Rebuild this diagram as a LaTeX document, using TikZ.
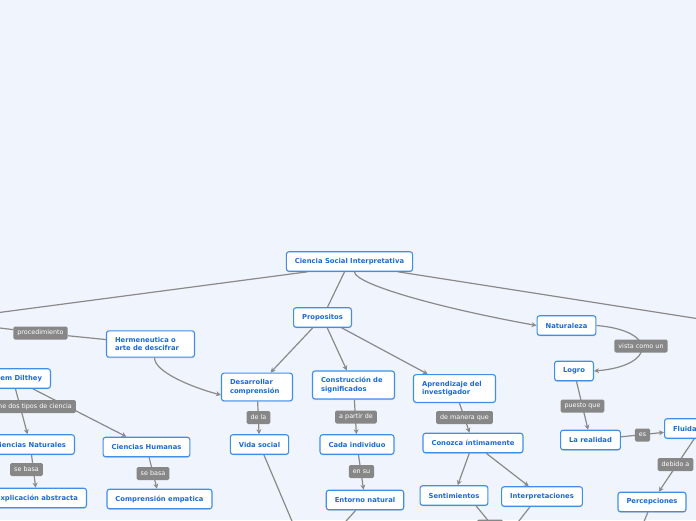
\documentclass[tikz,border=0pt]{standalone}
\usepackage{fontspec}
\setmainfont{DejaVu Sans}
\usetikzlibrary{arrows.meta,shadows}
\definecolor{pagebg}{HTML}{F0F4FC}
\definecolor{boxline}{HTML}{3F8FE8}
\definecolor{boxtext}{HTML}{1C6BD0}
\definecolor{linegray}{HTML}{8A8A8A}
\definecolor{tagfill}{HTML}{878787}
\pgfdeclarelayer{back}
\pgfdeclarelayer{edges}
\pgfsetlayers{back,edges,main}

\begin{document}
\begin{tikzpicture}[x=1pt, y=1pt,
    topic/.style={draw=boxline, fill=white, line width=1.1pt, rounded corners=2.5pt,
      text=boxtext, font=\fontsize{6.8}{8.7}\selectfont\bfseries, align=left,
      inner xsep=8.5pt, inner ysep=6.2pt, minimum height=19.5pt,
      drop shadow={shadow xshift=0pt, shadow yshift=-1.2pt, opacity=0.2}},
    tag/.style={fill=tagfill, text=white, rounded corners=1.5pt,
      font=\fontsize{6.4}{7}\selectfont, inner xsep=4pt, inner ysep=0pt, minimum height=13pt},
    link/.style={draw=linegray, line width=1.2pt},
    arr/.style={link, -{Stealth[length=5pt,width=5pt]}}
  ]
  \useasboundingbox (0,0) rectangle (696,-520);
  \begin{pgfonlayer}{back}
    \fill[pagebg] (0,0) rectangle (696,-520);
  \end{pgfonlayer}

  % topics
  \node[topic] (root) at (349.5,-261.5) {Ciencia Social Interpretativa};
  \node[topic] (prop) at (322.5,-317.5) {Propositos};
  \node[topic] (nat) at (566.5,-325.5) {Naturaleza};
  \node[topic, text width=71pt] (herm) at (150.5,-344) {Hermeneutica o\\arte de descifrar};
  \node[topic, text width=54pt] (des) at (257,-387) {Desarrollar\\comprensión};
  \node[topic, text width=65pt] (cons) at (353.5,-385) {Construcción de\\significados};
  \node[topic, text width=65pt] (apr) at (454.5,-388.5) {Aprendizaje del\\investigador};
  \node[topic] (logro) at (574,-371) {Logro};
  \node[topic, anchor=east] (dil) at (51,-378.5) {Wilhem Dilthey};
  \node[topic, anchor=east] (cnat) at (75,-444.5) {Ciencias Naturales};
  \node[topic] (chum) at (146.5,-447) {Ciencias Humanas};
  \node[topic, anchor=east] (expl) at (87,-498) {Explicación abstracta};
  \node[topic] (comp) at (159.5,-499) {Comprensión empatica};
  \node[topic] (vida) at (259.5,-444.5) {Vida social};
  \node[topic] (cada) at (357,-444.5) {Cada individuo};
  \node[topic] (ent) at (365,-500) {Entorno natural};
  \node[topic] (con) at (473,-443) {Conozca íntimamente};
  \node[topic] (sent) at (454,-495.5) {Sentimientos};
  \node[topic] (inter) at (542,-496.5) {Interpretaciones};
  \node[topic] (real) at (590.5,-440) {La realidad};
  \node[topic, anchor=west, text width=56pt] (flu) at (664,-428.5) {Fluidad};
  \node[topic] (perc) at (652,-502) {Percepciones};

  % tags on the links
  \node[tag] (lproc) at (40.5,-333) {procedimiento};
  \node[tag, anchor=east] (ldef) at (76,-406.5) {define dos tipos de ciencia};
  \node[tag] (lbas1) at (26.5,-469.5) {se basa};
  \node[tag] (lbas2) at (153,-473.5) {se basa};
  \node[tag] (lde) at (258.5,-417.5) {de la};
  \node[tag] (lpar) at (356,-417) {a partir de};
  \node[tag] (lsu) at (361.5,-471.5) {en su};
  \node[tag] (lman) at (464.5,-417.5) {de manera que};
  \node[tag] (lvis) at (641,-346) {vista como un};
  \node[tag] (lpue) at (582.5,-406) {puesto que};
  \node[tag] (les) at (642.5,-435) {es};
  \node[tag] (ldeb) at (675.5,-464.5) {debido a};
  \node[tag, minimum width=26pt] (lbot) at (490,-526) {};

  % ends outside the page
  \coordinate (offA) at (-300,-352);
  \coordinate (offB) at (900,-350.3);
  \coordinate (offC) at (-100,-315.7);
  \coordinate (offV) at (325.4,-600);
  \coordinate (offE) at (275,-600);
  \coordinate (offS) at (504,-540);
  \coordinate (offP) at (612,-600);

  % connectors
  \begin{pgfonlayer}{edges}
    \draw[link] ([xshift=-42pt]root.south) -- (offA);
    \draw[link] ([xshift=48.5pt]root.south) -- (offB);
    \draw[link] (root) -- (prop);
    \draw[arr] ([xshift=5pt]root.south) .. controls +(0,-12) and +(-100,18) .. (nat.west);
    \draw[arr] ([xshift=4pt]herm.south) .. controls +(0,-14) and +(-30,8) .. ([yshift=-8pt]des.west);
    \draw[arr] (nat.east) .. controls +(62,-5) and +(62,5) .. (logro.east);
    \draw[link] (offC) -- (lproc) -- (herm);
    \foreach \a/\b in {prop/des, prop/cons, prop/apr, dil/cnat, dil/chum, cnat/expl,
        chum/comp, des/vida, cons/cada, cada/ent, apr/con, con/sent, con/inter,
        logro/real, real/flu, flu/perc}
      \draw[arr] (\a) -- (\b);
    \foreach \a/\b in {vida/offV, ent/offE, perc/offP}
      \draw[link] (\a) -- (\b);
    \draw[link] ([xshift=22pt]sent.south) -- (offS);
    \draw[link] ([xshift=-12pt]inter.south) -- (offS);
  \end{pgfonlayer}
\end{tikzpicture}
\end{document}
